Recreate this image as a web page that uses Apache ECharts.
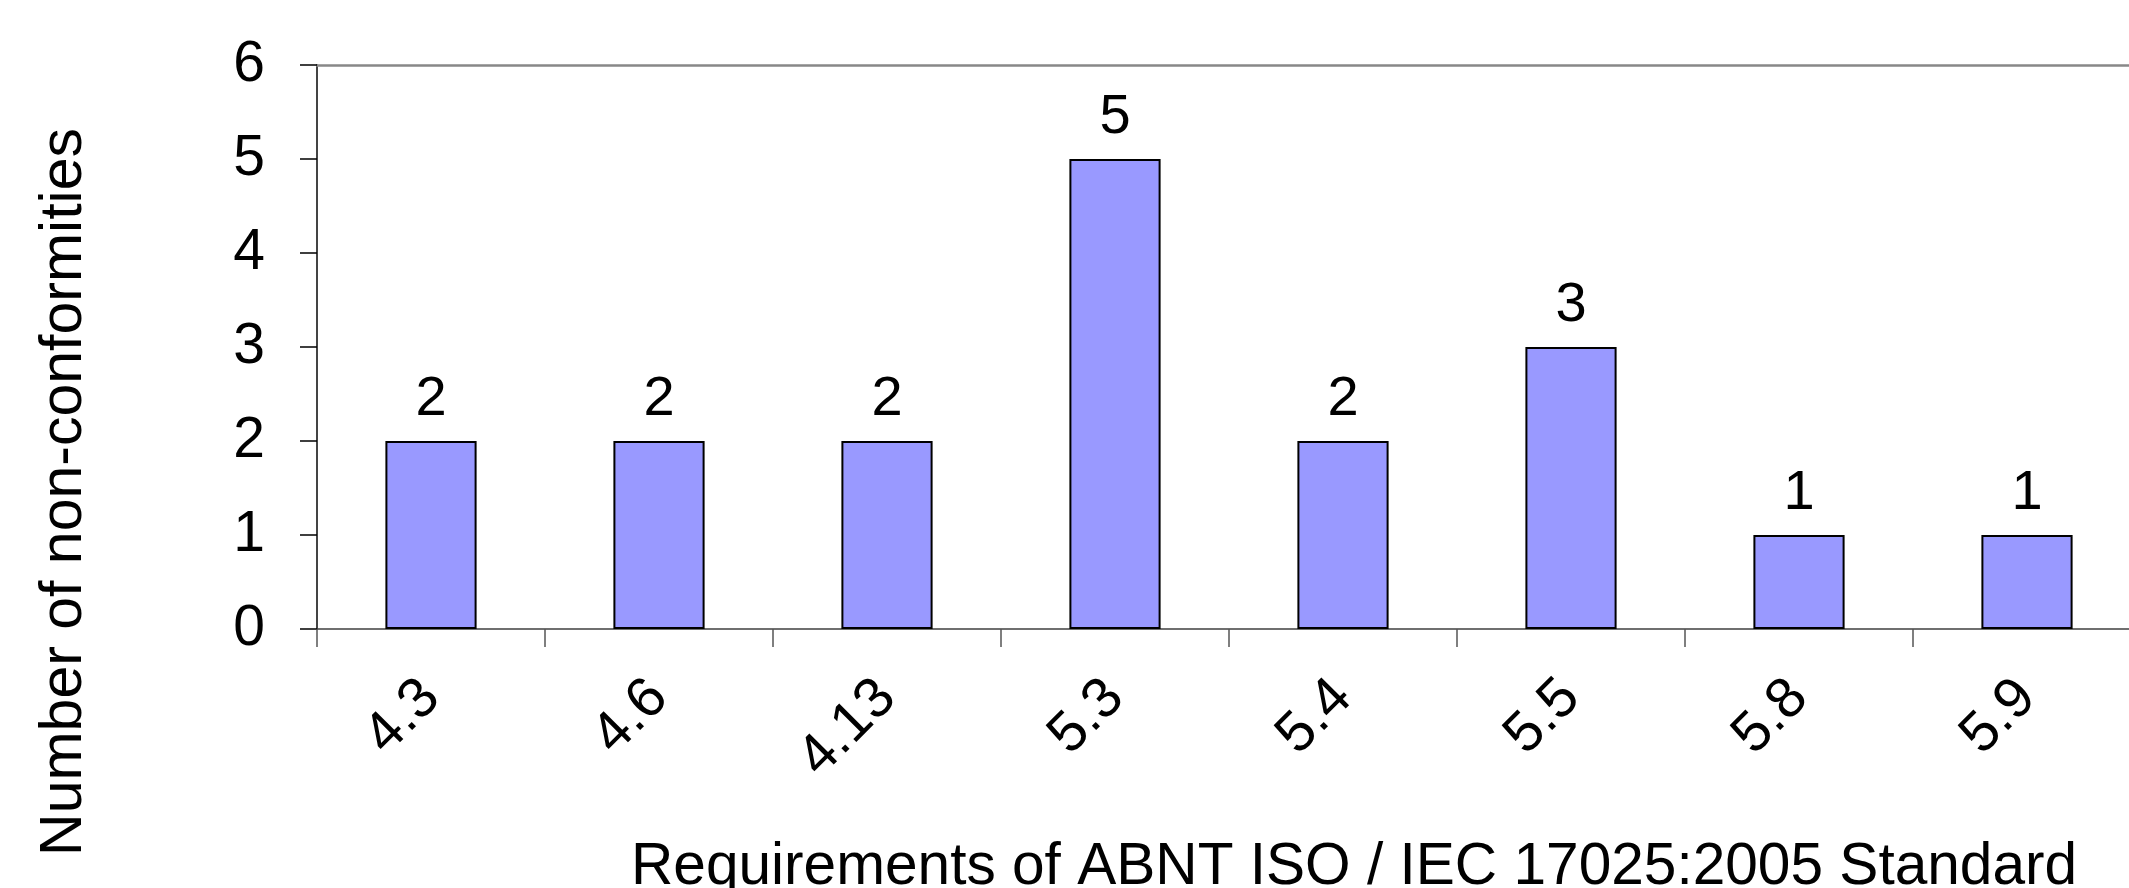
<!DOCTYPE html>
<html>
<head>
<meta charset="utf-8">
<script src="https://cdn.jsdelivr.net/npm/echarts@6/dist/echarts.min.js"></script>
<style>
html,body{margin:0;padding:0;background:#fff;}
#c{width:2129px;height:888px;}
</style>
</head>
<body>
<div id="c"></div>
<script>
const categories = ['4.3', '4.6', '4.13', '5.3', '5.4', '5.5', '5.8', '5.9'];
const counts = [2, 2, 2, 5, 2, 3, 1, 1];
const yTicks = [0, 1, 2, 3, 4, 5, 6];
const xTitle = 'Requirements of ABNT ISO / IEC 17025:2005 Standard';
const yTitle = 'Number of non-conformities';

const FONT = '"Liberation Sans", Arial, Helvetica, sans-serif';
const chart = echarts.init(document.getElementById('c'), null, {renderer: 'canvas'});
chart.setOption({
  backgroundColor: '#ffffff',
  animation: false,
  grid: {left: 317, top: 65, width: 1824, height: 564, containLabel: false, outerBoundsMode: 'none'},
  xAxis: [{
    type: 'category',
    data: categories,
    position: 'bottom',
    boundaryGap: true,
    axisLine: {show: true, lineStyle: {color: '#404040', width: 1.5}},
    axisTick: {show: true, length: 18, lineStyle: {color: '#555', width: 1.5}},
    axisLabel: {rotate: 45, margin: 60, fontSize: 57, color: '#000', fontFamily: FONT, interval: 0},
    splitLine: {show: false}
  }, {
    type: 'category',
    data: categories,
    position: 'top',
    axisLine: {show: true, lineStyle: {color: '#888888', width: 2.5}},
    axisTick: {show: false},
    axisLabel: {show: false},
    splitLine: {show: false}
  }],
  yAxis: {
    type: 'value',
    min: yTicks[0],
    max: yTicks[yTicks.length - 1],
    interval: 1,
    axisLine: {show: true, lineStyle: {color: '#444', width: 2}},
    axisTick: {show: true, length: 17, lineStyle: {color: '#000', width: 1.5}},
    axisLabel: {margin: 52, fontSize: 57, color: '#000', fontFamily: FONT},
    splitLine: {show: false}
  },
  series: [{
    type: 'bar',
    data: counts,
    barWidth: '40%',
    itemStyle: {color: '#9999FF', borderColor: '#000', borderWidth: 2},
    label: {show: true, position: 'top', distance: 13, fontSize: 56, color: '#000', fontFamily: FONT}
  }],
  graphic: [{
    type: 'text',
    x: 65, y: 492,
    rotation: Math.PI / 2,
    style: {text: yTitle, font: '59px ' + FONT, fill: '#000', textAlign: 'center', textVerticalAlign: 'middle'}
  }, {
    type: 'text',
    x: 631, y: 868,
    style: {text: xTitle, font: '58.6px ' + FONT, fill: '#000', textAlign: 'left', textVerticalAlign: 'middle'}
  }]
});
</script>
</body>
</html>
